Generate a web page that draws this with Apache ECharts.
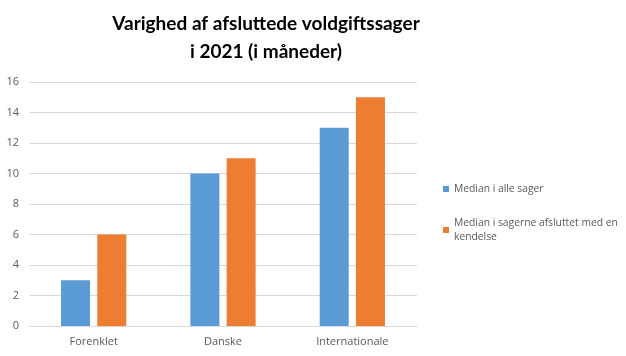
<!DOCTYPE html>
<html><head><meta charset="utf-8">
<script src="https://cdn.jsdelivr.net/npm/echarts@6/dist/echarts.min.js"></script>
<style>html,body{margin:0;padding:0;background:#fff}#c{width:626px;height:356px}</style>
</head><body><div id="c"></div>
<script>
const categories = ['Forenklet', 'Danske', 'Internationale'];
const seriesNames = ['Median i alle sager', 'Median i sagerne afsluttet med en kendelse'];
const medianAlle = [3, 10, 13];
const medianKendelse = [6, 11, 15];
const yTicks = [0, 2, 4, 6, 8, 10, 12, 14, 16];

const chart = echarts.init(document.getElementById('c'), null, {renderer: 'canvas'});
chart.setOption({
  animation: false,
  backgroundColor: '#fff',
  title: {
    text: 'Varighed af afsluttede voldgiftssager\ni 2021 (i måneder)',
    left: 261, top: 5, textAlign: 'center',
    textStyle: {fontFamily: 'Lato', fontWeight: 'bold', fontSize: 19, color: '#000', lineHeight: 28}
  },
  legend: {
    orient: 'vertical', left: 438, top: 177,
    itemWidth: 6, itemHeight: 6, itemGap: 20, icon: 'rect',
    textStyle: {fontFamily: 'Open Sans', fontSize: 10.3, color: '#595959', lineHeight: 14},
    formatter: n => n === seriesNames[1] ? 'Median i sagerne afsluttet med en\nkendelse' : n
  },
  grid: {left: 29, right: 209, top: 82, bottom: 30},
  xAxis: {
    type: 'category', data: categories,
    axisLine: {lineStyle: {color: '#d9d9d9'}}, axisTick: {show: false},
    axisLabel: {fontFamily: 'Open Sans', fontSize: 11, color: '#595959', margin: 10}
  },
  yAxis: {
    type: 'value', min: yTicks[0], max: yTicks[yTicks.length - 1], interval: 2,
    axisLine: {show: false}, axisTick: {show: false},
    splitLine: {lineStyle: {color: '#d9d9d9'}},
    axisLabel: {fontFamily: 'Open Sans', fontSize: 11, color: '#595959', margin: 10}
  },
  series: [
    {name: seriesNames[0], type: 'bar', data: medianAlle, barWidth: 29, barGap: '25%', itemStyle: {color: '#5B9BD5'}},
    {name: seriesNames[1], type: 'bar', data: medianKendelse, barWidth: 29, itemStyle: {color: '#ED7D31'}}
  ]
});
</script></body></html>
